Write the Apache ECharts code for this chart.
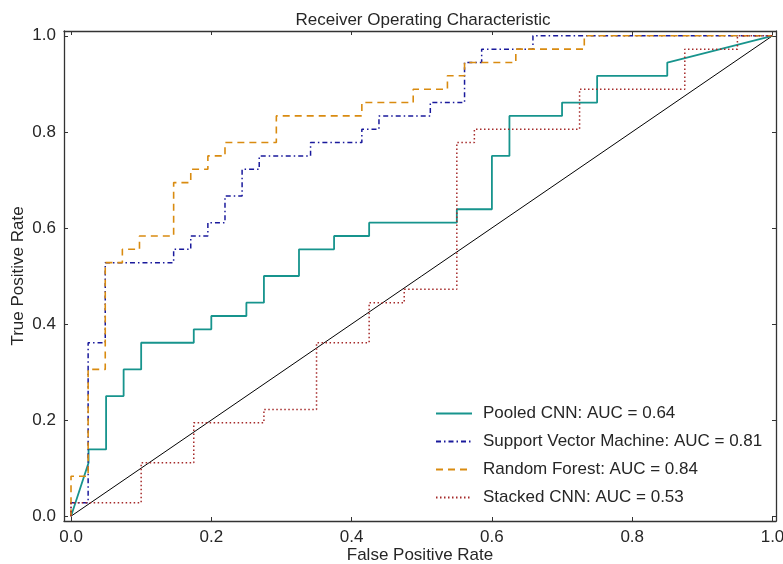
<!DOCTYPE html>
<html>
<head>
<meta charset="utf-8">
<script src="https://cdn.jsdelivr.net/npm/echarts@6/dist/echarts.min.js"></script>
<style>
html,body{margin:0;padding:0;background:#fff;}
#c{width:783px;height:564px;}
</style>
</head>
<body>
<div id="c"></div>
<script>
// ---- data ----
const titleText = 'Receiver Operating Characteristic';
const xName = 'False Positive Rate';
const yName = 'True Positive Rate';
const tickValues = [0, 0.2, 0.4, 0.6, 0.8, 1.0];

const seriesNames = [
  'Pooled CNN: AUC = 0.64',
  'Support Vector Machine: AUC = 0.81',
  'Random Forest: AUC = 0.84',
  'Stacked CNN: AUC = 0.53'
];

const pooledFpr = [0, .025, .025, .05, .05, .075, .075, .1, .1, .175, .175, .2, .2, .25, .25, .275, .275, .325, .325, .375, .375, .425, .425, .55, .55, .6, .6, .625, .625, .7, .7, .75, .75, .85, .85, 1];
const pooledTpr = [0, .1111, .1389, .1389, .25, .25, .3056, .3056, .3611, .3611, .3889, .3889, .4167, .4167, .4444, .4444, .5, .5, .5556, .5556, .5833, .5833, .6111, .6111, .6389, .6389, .75, .75, .8333, .8333, .8611, .8611, .9167, .9167, .9444, 1];

const svmFpr = [0, 0, .0244, .0244, .0488, .0488, .1463, .1463, .1707, .1707, .1951, .1951, .2195, .2195, .2439, .2439, .2683, .2683, .3415, .3415, .4146, .4146, .4390, .4390, .5122, .5122, .5610, .5610, .5854, .5854, .6585, .6585, 1];
const svmTpr = [0, .0278, .0278, .3611, .3611, .5278, .5278, .5556, .5556, .5833, .5833, .6111, .6111, .6667, .6667, .7222, .7222, .75, .75, .7778, .7778, .8056, .8056, .8333, .8333, .8611, .8611, .9444, .9444, .9722, .9722, 1, 1];

const rfFpr = [0, 0, .0244, .0244, .0488, .0488, .0732, .0732, .0976, .0976, .1463, .1463, .1707, .1707, .1951, .1951, .2195, .2195, .2927, .2927, .4146, .4146, .4878, .4878, .5366, .5366, .5610, .5610, .6341, .6341, .7317, .7317, 1];
const rfTpr = [0, .0833, .0833, .3056, .3056, .5278, .5278, .5556, .5556, .5833, .5833, .6944, .6944, .7222, .7222, .75, .75, .7778, .7778, .8333, .8333, .8611, .8611, .8889, .8889, .9167, .9167, .9444, .9444, .9722, .9722, 1, 1];

const stackedFpr = [0, 0, .1, .1, .175, .175, .275, .275, .35, .35, .425, .425, .475, .475, .55, .55, .575, .575, .725, .725, .875, .875, .95, .95, 1];
const stackedTpr = [0, .0278, .0278, .1111, .1111, .1944, .1944, .2222, .2222, .3611, .3611, .4444, .4444, .4722, .4722, .7778, .7778, .8056, .8056, .8889, .8889, .9722, .9722, 1, 1];

const diagX = [0, 1];
const diagY = [0, 1];

// ---- chart ----
const zip = (a, b) => a.map((v, i) => [v, b[i]]);
const FONT = 'Liberation Sans, Arial, sans-serif';
const TXT = '#262626';
const FRAME = '#333333';

const chart = echarts.init(document.getElementById('c'), null, {renderer: 'canvas'});

function axisCommon(showLabel, pos) {
  return {
    type: 'value',
    min: -0.01,
    position: pos,
    axisLine: {show: true, onZero: false, lineStyle: {color: FRAME, width: 1.3}},
    axisTick: {show: true, inside: true, length: 4, customValues: tickValues, lineStyle: {color: FRAME, width: 1}},
    axisLabel: {
      show: showLabel, customValues: tickValues, margin: 8,
      formatter: v => v.toFixed(1),
      color: TXT, fontSize: 17, fontFamily: FONT
    },
    splitLine: {show: false}
  };
}

const xBottom = Object.assign(axisCommon(true, 'bottom'), {
  max: 1.005,
  name: xName, nameLocation: 'middle', nameGap: 26, nameMoveOverlap: false,
  nameTextStyle: {color: TXT, fontSize: 17, fontFamily: FONT}
});
const xTop = Object.assign(axisCommon(false, 'top'), {max: 1.005});
const yLeft = Object.assign(axisCommon(true, 'left'), {
  max: 1.01,
  name: yName, nameLocation: 'middle', nameGap: 37, nameMoveOverlap: false,
  nameTextStyle: {color: TXT, fontSize: 17, fontFamily: FONT}
});
const yRight = Object.assign(axisCommon(false, 'right'), {max: 1.01});

function lineSeries(name, x, y, color, width, type) {
  return {
    name: name, type: 'line', data: zip(x, y),
    symbol: 'none', showSymbol: false, animation: false,
    xAxisIndex: 0, yAxisIndex: 0,
    lineStyle: {color: color, width: width, type: type},
    itemStyle: {color: color},
    z: 3
  };
}

chart.setOption({
  animation: false,
  backgroundColor: '#ffffff',
  title: {
    text: titleText, left: 418, textAlign: 'center', top: 7,
    textStyle: {color: TXT, fontSize: 17, fontWeight: 'normal', fontFamily: FONT}
  },
  grid: {left: 64, top: 31, right: 7, bottom: 43, containLabel: false, outerBoundsMode: 'none'},
  xAxis: [xBottom, xTop],
  yAxis: [yLeft, yRight],
  legend: {
    data: seriesNames,
    orient: 'vertical',
    left: 430, top: 400,
    itemWidth: 36, itemHeight: 14, itemGap: 11,
    itemStyle: {opacity: 0},
    textStyle: {color: TXT, fontSize: 17, fontFamily: FONT, padding: [0, 0, 0, 6]}
  },
  series: [
    {
      name: 'diag', type: 'line', data: zip(diagX, diagY),
      symbol: 'none', animation: false, silent: true,
      lineStyle: {color: '#000000', width: 1}, z: 2
    },
    lineSeries(seriesNames[0], pooledFpr, pooledTpr, '#17948d', 1.8, 'solid'),
    lineSeries(seriesNames[1], svmFpr, svmTpr, '#1a1a9c', 1.5, [5, 3, 1.5, 3]),
    lineSeries(seriesNames[2], rfFpr, rfTpr, '#d98b10', 1.6, [7, 5]),
    lineSeries(seriesNames[3], stackedFpr, stackedTpr, '#a52a2a', 1.5, [1.5, 2.5])
  ]
});
</script>
</body>
</html>
